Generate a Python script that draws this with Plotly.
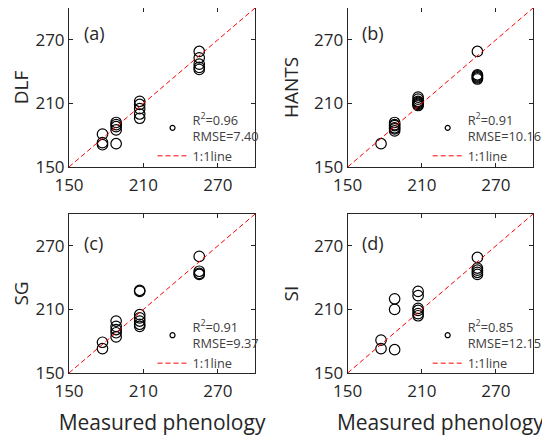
import plotly.graph_objects as go

# panel names, labels and statistics
panel_names = ["DLF", "HANTS", "SG", "SI"]
panel_tags = ["(a)", "(b)", "(c)", "(d)"]
r2_values = ["0.96", "0.91", "0.91", "0.85"]
rmse_values = ["7.40", "10.16", "9.37", "12.15"]
one_to_one = [150, 300]

# measured vs. estimated phenology (day of year)
dlf_measured = [177, 177, 177, 188, 188, 188, 188, 188, 207, 207, 207, 207, 207, 255, 255, 255, 255, 255]
dlf_estimated = [181, 173, 171, 192, 190, 188, 185, 172, 212, 209, 205, 200, 196, 259, 253, 247, 244, 242]

hants_measured = [177, 188, 188, 188, 188, 188, 188, 207, 207, 207, 207, 207, 207, 207, 255, 255, 255, 255, 255, 255]
hants_estimated = [172, 192, 190, 189, 187, 186, 184, 216, 214, 212, 211, 210, 209, 208, 259, 237, 236, 235, 234, 233]

sg_measured = [177, 177, 188, 188, 188, 188, 188, 207, 207, 207, 207, 207, 207, 207, 255, 255, 255, 255]
sg_estimated = [179, 173, 199, 194, 191, 188, 184, 228, 227, 205, 202, 199, 196, 194, 260, 246, 244, 243]

si_measured = [177, 177, 188, 188, 188, 207, 207, 207, 207, 207, 207, 255, 255, 255, 255, 255]
si_estimated = [181, 173, 220, 210, 172, 227, 223, 211, 209, 206, 204, 259, 249, 247, 245, 243]

measured = [dlf_measured, hants_measured, sg_measured, si_measured]
estimated = [dlf_estimated, hants_estimated, sg_estimated, si_estimated]

FONT = "Open Sans"
TXT = "#262626"

fig = go.Figure()

# the page body adds an 8px offset, so the layout is shifted up/left by that much
x_domains = [[0, 0.401], [0.6006, 1], [0, 0.401], [0.6006, 1]]
y_domains = [[0.5644, 1], [0.5644, 1], [0, 0.4356], [0, 0.4356]]
legend_pos = [(0.180, 0.735), (0.773, 0.735), (0.180, 0.167), (0.773, 0.167)]
tag_y = [0.84, 0.84, 0.82, 0.82]

for i in range(4):
    n = "" if i == 0 else str(i + 1)
    leg = "legend" + n
    fig.add_trace(go.Scatter(
        x=measured[i], y=estimated[i], mode="markers",
        marker=dict(symbol="circle-open", size=10.5, color="black", line=dict(width=1.2)),
        xaxis="x" + n, yaxis="y" + n, showlegend=False, hoverinfo="skip"))
    # legend entry with the fit statistics
    fig.add_trace(go.Scatter(
        x=[None], y=[None], mode="markers",
        marker=dict(symbol="circle-open", size=5, color="black", line=dict(width=1.2)),
        name="R<sup>2</sup>=%s<br>RMSE=%s" % (r2_values[i], rmse_values[i]),
        xaxis="x" + n, yaxis="y" + n, legend=leg))
    fig.add_trace(go.Scatter(
        x=one_to_one, y=one_to_one, mode="lines",
        line=dict(color="red", width=1, dash="5px,3px"),
        name="1:1line", xaxis="x" + n, yaxis="y" + n, legend=leg))

    axis_common = dict(
        range=[150, 300], tick0=150, dtick=60, ticks="inside", ticklen=4,
        tickwidth=1, tickcolor=TXT, showline=True, linecolor=TXT, linewidth=1,
        mirror="ticks", showgrid=False, zeroline=False,
        tickfont=dict(family=FONT, size=17, color=TXT))
    xaxis = dict(axis_common, domain=x_domains[i], anchor="y" + n, ticklabelstandoff=3)
    yaxis = dict(axis_common, domain=y_domains[i], anchor="x" + n,
                 title=dict(text=panel_names[i], font=dict(family=FONT, size=19, color=TXT), standoff=10))
    if i >= 2:
        xaxis["title"] = dict(text="Measured phenology", font=dict(family=FONT, size=21, color=TXT), standoff=13)
    fig.update_layout({"xaxis" + n: xaxis, "yaxis" + n: yaxis})

    fig.update_layout({leg: dict(
        x=legend_pos[i][0], y=legend_pos[i][1], xanchor="left", yanchor="top",
        bgcolor="rgba(0,0,0,0)", borderwidth=0, itemwidth=30,
        font=dict(family=FONT, size=12.8, color="#404040"))})

    fig.add_annotation(
        text=panel_tags[i], xref="x%s domain" % n, yref="y%s domain" % n,
        x=0.068, y=tag_y[i], xanchor="left", yanchor="middle", showarrow=False,
        font=dict(family=FONT, size=18, color=TXT))

fig.update_layout(
    width=550, height=440,
    margin=dict(l=61, r=25, t=0, b=75),
    paper_bgcolor="white", plot_bgcolor="white",
    font=dict(family=FONT, color=TXT),
)

fig.write_html("out.html")
